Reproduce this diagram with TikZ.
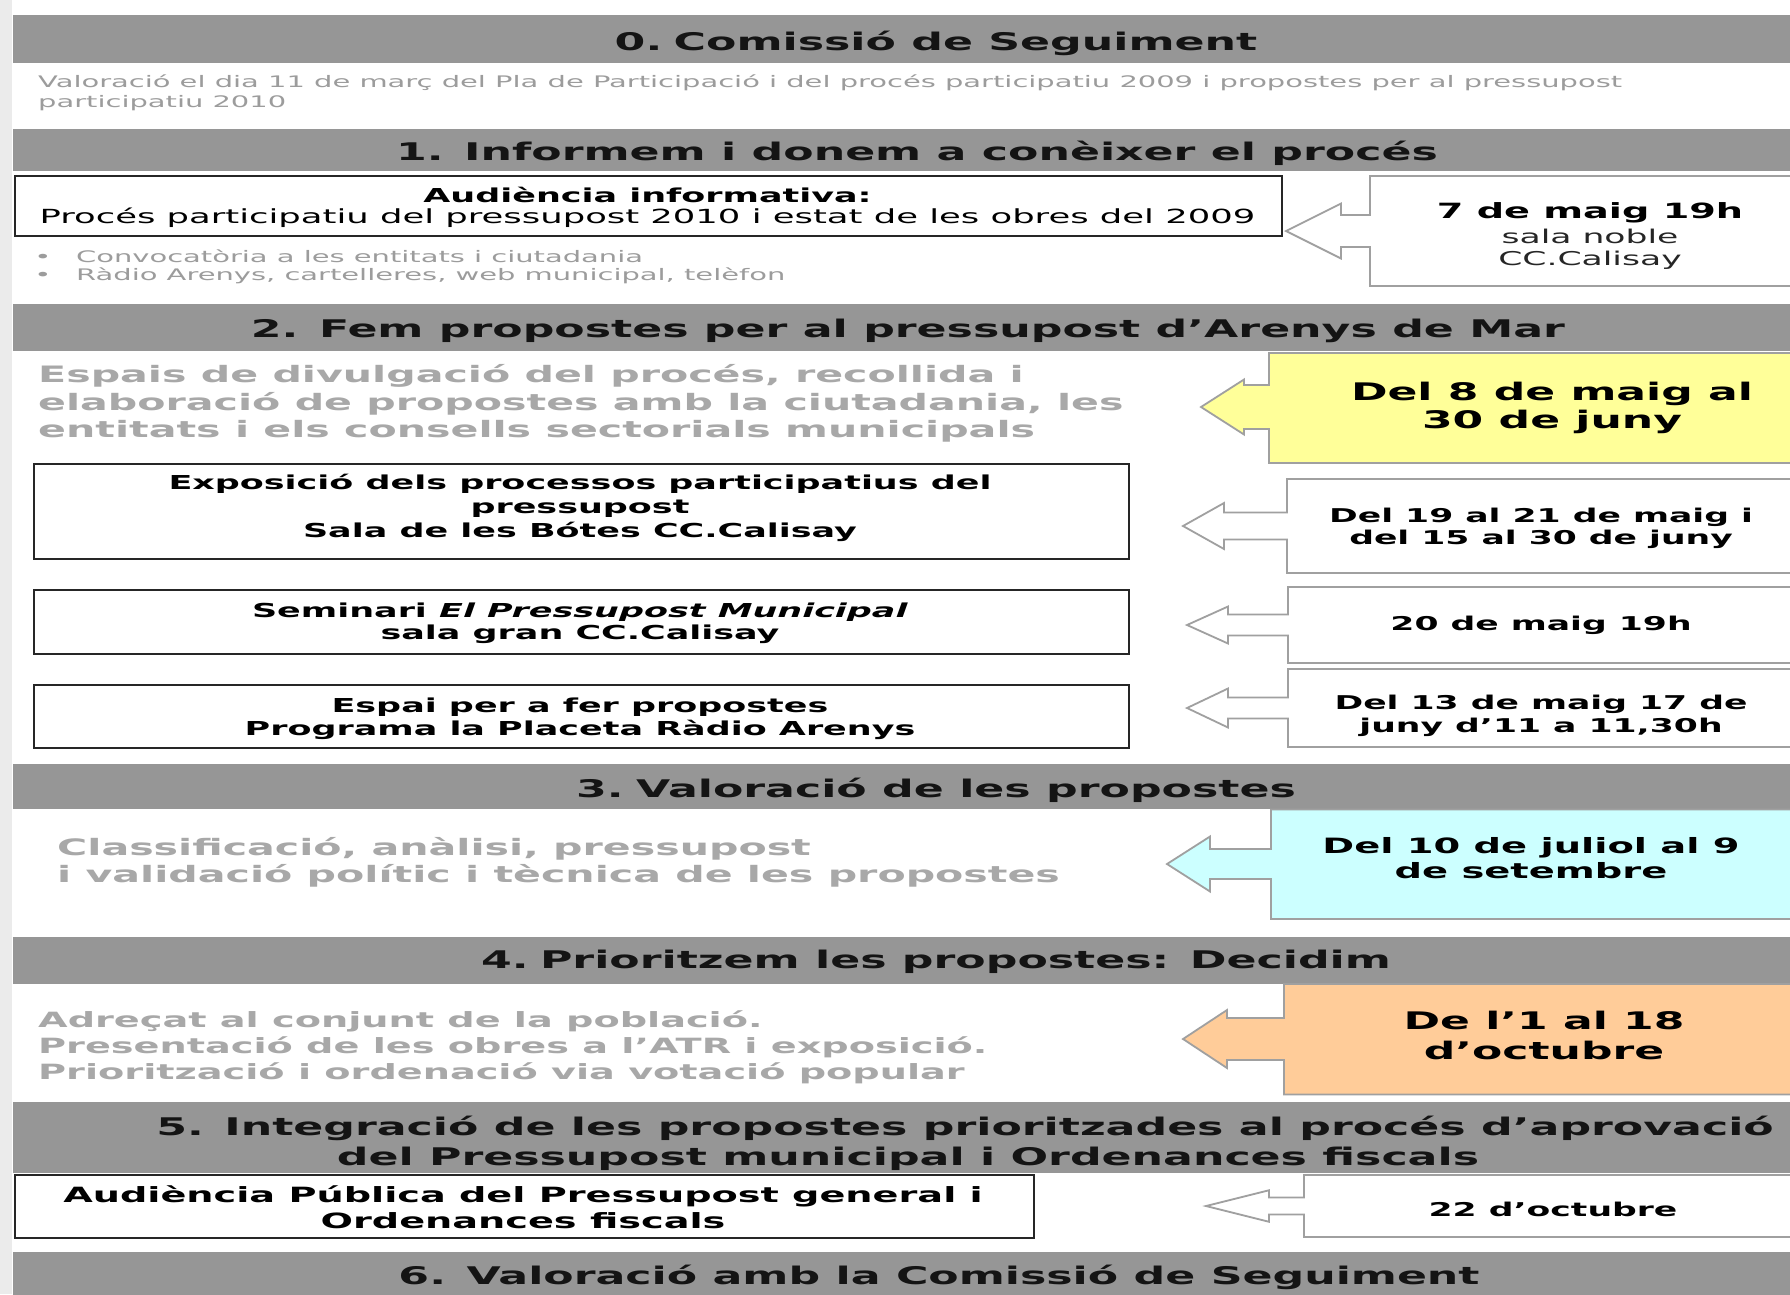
\documentclass[tikz,border=0pt]{standalone}
\usepackage{fontspec}
\setmainfont{DejaVu Sans}[FakeStretch=1.82]
\definecolor{bandgray}{HTML}{969696}
\definecolor{txtgray}{HTML}{A8A8A8}
\definecolor{smallgray}{HTML}{9C9C9C}
\definecolor{outl}{HTML}{A0A0A0}
\definecolor{boxline}{HTML}{262626}
\definecolor{yel}{HTML}{FFFF99}
\definecolor{cya}{HTML}{CCFFFF}
\definecolor{ora}{HTML}{FFCC99}
\definecolor{hdtxt}{HTML}{141414}
\newcommand\fs[2]{\fontsize{#1}{#2}\selectfont}
\newcommand\mycallout[9]{%
  \draw[callout, fill=#9] (#1,#2) -- (1800,#2) -- (1800,#3) -- (#1,#3) -- (#1,#6+#7) -- (#4,#6+#7) -- (#4,#6+#8) -- (#5,#6) -- (#4,#6-#8) -- (#4,#6-#7) -- (#1,#6-#7) -- cycle;}
\tikzset{
  band/.style={fill=bandgray, draw=none, inner sep=0pt, anchor=north west, minimum width=1777pt},
  framebox/.style={draw=boxline, line width=1.8pt, fill=white, inner sep=0pt, anchor=north west},
  callout/.style={draw=outl, line width=1.8pt, line join=miter},
  txt/.style={inner sep=0pt, anchor=base},
  hd/.style={txt, text=hdtxt, font=\fs{24.3}{29}\bfseries},
  sm/.style={txt, anchor=base west, text=smallgray, font=\fs{15.9}{20}},
  big/.style={txt, anchor=base west, text=txtgray, font=\fs{22.6}{28}\bfseries},
  mid/.style={txt, anchor=base west, text=txtgray, font=\fs{21}{26}\bfseries},
  bx/.style={txt, text=black, font=\fs{19.2}{23}\bfseries},
  bxr/.style={txt, text=black, font=\fs{19.45}{23}},
  ct/.style={txt, text=black, font=\fs{19}{23}\bfseries},
  ctr/.style={txt, text=black!85, font=\fs{19}{23}},
  ctb/.style={txt, text=black, font=\fs{24.2}{29}\bfseries},
  ctm/.style={txt, text=black, font=\fs{21.1}{25}\bfseries}
}
\begin{document}
\begin{tikzpicture}[x=1pt, y=-1pt]
\useasboundingbox (0,0) rectangle (1790,1294);
\fill[white] (0,0) rectangle (1790,1294);
\fill[gray!16] (0,0) rectangle (12,1294);

% bands
\node[band, minimum height=48pt] (b0) at (13,15) {};
\node[band, minimum height=42pt] (b1) at (13,129) {};
\node[band, minimum height=47pt] (b2) at (13,304) {};
\node[band, minimum height=45pt] (b3) at (13,764) {};
\node[band, minimum height=47pt] (b4) at (13,936.5) {};
\node[band, minimum height=71pt] (b5) at (13,1102) {};
\node[band, minimum height=45pt] (b6) at (13,1251.5) {};

% callouts
\mycallout{1370}{176}{286}{1341}{1286}{231}{16}{27.5}{white}
\mycallout{1269}{353}{463}{1244}{1201}{407}{22}{27.5}{yel}
\mycallout{1287}{479}{573}{1224}{1183}{526}{13.5}{23}{white}
\mycallout{1288}{587}{663}{1228}{1187}{625}{10.5}{18.5}{white}
\mycallout{1288}{669}{747}{1228}{1187}{708}{10.5}{19.5}{white}
\mycallout{1271}{809.5}{919}{1210}{1167}{864}{15}{27.5}{cya}
\mycallout{1284}{984}{1094.5}{1227}{1183}{1039}{21}{29}{ora}
\mycallout{1304}{1175}{1237}{1269}{1206}{1206}{8.5}{15.75}{white}

% boxes
\node[framebox, minimum width=1267pt, minimum height=60pt] (box1) at (14,175) {};
\node[framebox, minimum width=1095pt, minimum height=95pt] (box2) at (33,463) {};
\node[framebox, minimum width=1095pt, minimum height=64pt] (box3) at (33,589) {};
\node[framebox, minimum width=1095pt, minimum height=63pt] (box4) at (33,684) {};
\node[framebox, minimum width=1019pt, minimum height=63pt] (box5) at (14,1174) {};

% headings
\node[hd] (h0) at (936,50) {0.\kern-4pt\ Comissió de Seguiment};
\node[hd] (h1) at (917,160) {1. Informem i donem a conèixer el procés};
\node[hd] (h2) at (908,337) {2. Fem propostes per al pressupost d'Arenys de Mar};
\node[hd] (h3) at (936,797) {3.\kern-3pt\ Valoració de les propostes};
\node[hd] (h4) at (936,968) {4.\kern-4pt\ Prioritzem les propostes: Decidim};
\node[hd] (h5a) at (965,1135) {5. Integració de les propostes prioritzades al procés d'aprovació};
\node[hd] (h5b) at (908,1165) {del Pressupost municipal i Ordenances fiscals};
\node[hd] (h6) at (939,1284) {6. Valoració amb la Comissió de Seguiment};

% section 0
\node[sm] (d0a) at (38,87) {Valoració el dia 11 de març del Pla de Participació i del procés participatiu 2009 i propostes per al pressupost};
\node[sm] (d0b) at (38,107) {participatiu 2010};

% section 1
\node[bx] (t1a) at (647.5,202) {Audiència informativa:};
\node[bxr] (t1b) at (647.5,223) {Procés participatiu del pressupost 2010 i estat de les obres del 2009};
\node[sm, anchor=base] (bu1) at (43,262) {•};
\node[sm] (l1a) at (76,262) {Convocatòria a les entitats i ciutadania};
\node[sm, anchor=base] (bu2) at (43,280) {•};
\node[sm] (l1b) at (76,280) {Ràdio Arenys, cartelleres, web municipal, telèfon};
\node[ct, font=\fs{21}{25}\bfseries] (c1a) at (1590,218) {7 de maig 19h};
\node[ctr] (c1b) at (1590,243) {sala noble};
\node[ctr] (c1c) at (1590,265) {CC.Calisay};

% section 2
\node[big] (d2a) at (38,382) {Espais de divulgació del procés, recollida i};
\node[big] (d2b) at (38,410) {elaboració de propostes amb la ciutadania, les};
\node[big] (d2c) at (38,437) {entitats i els consells sectorials municipals};
\node[ctb] (c2a) at (1552,400) {Del 8 de maig al};
\node[ctb] (c2b) at (1552,428) {30 de juny};
\node[bx] (t2a) at (580,489) {Exposició dels processos participatius del};
\node[bx] (t2b) at (580,513) {pressupost};
\node[bx] (t2c) at (580,537) {Sala de les Bótes CC.Calisay};
\node[ct] (c3a) at (1541,522) {Del 19 al 21 de maig i};
\node[ct] (c3b) at (1541,544) {del 15 al 30 de juny};
\node[bx] (t3a) at (580,617) {Seminari \textit{El Pressupost Municipal}};
\node[bx] (t3b) at (580,639) {sala gran CC.Calisay};
\node[ct] (c4a) at (1541,630) {20 de maig 19h};
\node[bx] (t4a) at (580,712) {Espai per a fer propostes};
\node[bx] (t4b) at (580,735) {Programa la Placeta Ràdio Arenys};
\node[ct] (c5a) at (1541,709) {Del 13 de maig 17 de};
\node[ct] (c5b) at (1541,732) {juny d'11 a 11,30h};

% section 3
\node[big] (d3a) at (57,855) {Classificació, anàlisi, pressupost};
\node[big] (d3b) at (57,882) {i validació polític i tècnica de les propostes};
\node[ctm] (c6a) at (1531,853) {Del 10 de juliol al 9};
\node[ctm] (c6b) at (1531,878) {de setembre};

% section 4
\node[mid] (d4a) at (38,1027) {Adreçat al conjunt de la població.};
\node[mid] (d4b) at (38,1053) {Presentació de les obres a l'ATR i exposició.};
\node[mid] (d4c) at (38,1079) {Priorització i ordenació via votació popular};
\node[ctb] (c7a) at (1544,1029) {De l'1 al 18};
\node[ctb] (c7b) at (1544,1059) {d'octubre};

% section 5
\node[bx, font=\fs{21}{25}\bfseries] (t5a) at (523,1202) {Audiència Pública del Pressupost general i};
\node[bx, font=\fs{21}{25}\bfseries] (t5b) at (523,1228) {Ordenances fiscals};
\node[ct] (c8a) at (1553,1216) {22 d'octubre};
\end{tikzpicture}
\end{document}
